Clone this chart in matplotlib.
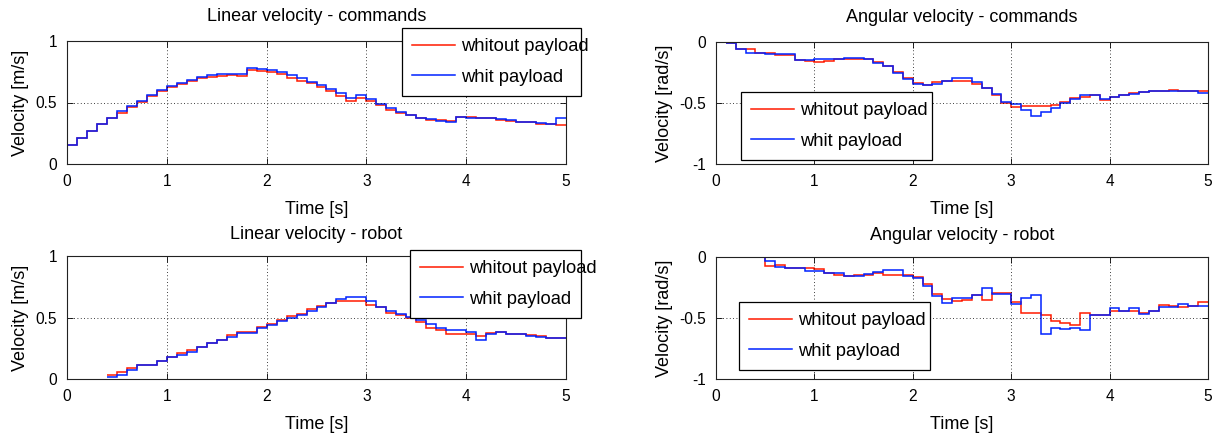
import numpy as np
import matplotlib
matplotlib.use("Agg")
import matplotlib.pyplot as plt

plt.rcParams['font.family'] = ['Liberation Sans', 'DejaVu Sans']

# ---- data -------------------------------------------------------------
DT = 0.1
series_labels = ["whitout payload", "whit payload"]

# Linear velocity - commands (starts at t = 0.0)
lin_cmd_t0 = 0.0
lin_cmd_no = [0.155, 0.212, 0.272, 0.323, 0.372, 0.418, 0.463, 0.505, 0.554, 0.592,
              0.622, 0.650, 0.678, 0.698, 0.707, 0.717, 0.723, 0.712, 0.764, 0.756,
              0.745, 0.728, 0.700, 0.675, 0.655, 0.625, 0.596, 0.555, 0.510, 0.540,
              0.515, 0.478, 0.440, 0.418, 0.397, 0.375, 0.360, 0.360, 0.352, 0.386,
              0.380, 0.375, 0.370, 0.360, 0.353, 0.343, 0.342, 0.328, 0.324, 0.320]
lin_cmd_pl = [0.155, 0.212, 0.272, 0.323, 0.375, 0.429, 0.470, 0.514, 0.560, 0.598,
              0.633, 0.660, 0.685, 0.707, 0.723, 0.728, 0.734, 0.734, 0.780, 0.772,
              0.765, 0.750, 0.725, 0.700, 0.670, 0.640, 0.610, 0.575, 0.535, 0.565,
              0.525, 0.490, 0.455, 0.425, 0.400, 0.372, 0.364, 0.350, 0.342, 0.380,
              0.375, 0.372, 0.370, 0.362, 0.355, 0.345, 0.338, 0.330, 0.322, 0.370]

# Angular velocity - commands (starts at t = 0.1)
ang_cmd_t0 = 0.1
ang_cmd_no = [-0.010, -0.056, -0.058, -0.089, -0.094, -0.110, -0.110, -0.150, -0.156, -0.167,
              -0.156, -0.139, -0.139, -0.139, -0.139, -0.164, -0.194, -0.244, -0.294, -0.335,
              -0.356, -0.330, -0.322, -0.317, -0.320, -0.348, -0.376, -0.433, -0.500, -0.530,
              -0.525, -0.525, -0.525, -0.517, -0.489, -0.460, -0.450, -0.433, -0.478, -0.450,
              -0.438, -0.420, -0.410, -0.404, -0.404, -0.393, -0.404, -0.404, -0.404]
ang_cmd_pl = [-0.010, -0.056, -0.089, -0.089, -0.097, -0.100, -0.100, -0.150, -0.144, -0.139,
              -0.139, -0.139, -0.133, -0.133, -0.139, -0.172, -0.200, -0.256, -0.306, -0.344,
              -0.350, -0.345, -0.317, -0.298, -0.298, -0.326, -0.376, -0.427, -0.494, -0.511,
              -0.560, -0.610, -0.576, -0.540, -0.500, -0.466, -0.438, -0.438, -0.466, -0.450,
              -0.438, -0.427, -0.410, -0.404, -0.404, -0.404, -0.404, -0.404, -0.420]

# Linear velocity - robot (starts at t = 0.4)
lin_rob_t0 = 0.4
lin_rob_no = [0.030, 0.056, 0.089, 0.116, 0.116, 0.148, 0.175, 0.210, 0.237, 0.260,
              0.290, 0.320, 0.358, 0.384, 0.384, 0.422, 0.449, 0.476, 0.513, 0.532,
              0.567, 0.594, 0.621, 0.637, 0.637, 0.637, 0.600, 0.583, 0.538, 0.519,
              0.492, 0.460, 0.417, 0.398, 0.368, 0.368, 0.368, 0.352, 0.374, 0.384,
              0.368, 0.363, 0.358, 0.352, 0.336, 0.330]
lin_rob_pl = [0.016, 0.035, 0.075, 0.116, 0.116, 0.148, 0.175, 0.196, 0.223, 0.260,
              0.290, 0.320, 0.344, 0.371, 0.371, 0.411, 0.438, 0.470, 0.497, 0.524,
              0.551, 0.583, 0.621, 0.648, 0.664, 0.664, 0.637, 0.589, 0.551, 0.530,
              0.503, 0.476, 0.449, 0.417, 0.398, 0.398, 0.379, 0.320, 0.363, 0.384,
              0.368, 0.363, 0.352, 0.341, 0.330, 0.330]

# Angular velocity - robot (starts at t = 0.4)
ang_rob_t0 = 0.4
ang_rob_no = [-0.003, -0.073, -0.067, -0.090, -0.090, -0.090, -0.100, -0.130, -0.150, -0.156,
              -0.150, -0.145, -0.134, -0.150, -0.150, -0.150, -0.162, -0.218, -0.307, -0.341,
              -0.358, -0.353, -0.311, -0.350, -0.294, -0.294, -0.367, -0.461, -0.456, -0.472,
              -0.522, -0.544, -0.556, -0.456, -0.472, -0.472, -0.444, -0.439, -0.444, -0.456,
              -0.439, -0.394, -0.400, -0.406, -0.400, -0.367]
ang_rob_pl = [-0.003, -0.034, -0.084, -0.090, -0.090, -0.117, -0.117, -0.128, -0.128, -0.156,
              -0.156, -0.140, -0.123, -0.106, -0.106, -0.156, -0.173, -0.240, -0.318, -0.380,
              -0.335, -0.339, -0.311, -0.256, -0.306, -0.306, -0.383, -0.333, -0.311, -0.628,
              -0.583, -0.594, -0.578, -0.600, -0.472, -0.472, -0.422, -0.439, -0.422, -0.467,
              -0.439, -0.406, -0.406, -0.389, -0.400, -0.400]

# ---- figure -----------------------------------------------------------
W, H = 1219, 437
fig = plt.figure(figsize=(W / 100, H / 100), dpi=100)


def rect(x0, y0, x1, y1):
    return [x0 / W, 1 - y1 / H, (x1 - x0) / W, (y1 - y0) / H]


panels = [
    dict(rect=rect(67, 41, 566, 164), title="Linear velocity - commands", ylabel="Velocity [m/s]",
         t0=lin_cmd_t0, no=lin_cmd_no, pl=lin_cmd_pl, ylim=(0, 1), yticks=[0, 0.5, 1],
         leg=(402, 28, 581, 93), tpad=14.5),
    dict(rect=rect(716, 42, 1208, 164), title="Angular velocity - commands", ylabel="Velocity [rad/s]",
         t0=ang_cmd_t0, no=ang_cmd_no, pl=ang_cmd_pl, ylim=(-1, 0), yticks=[-1, -0.5, 0],
         leg=(741, 92, 932, 157), tpad=14.5),
    dict(rect=rect(67, 256, 566, 379), title="Linear velocity - robot", ylabel="Velocity [m/s]",
         t0=lin_rob_t0, no=lin_rob_no, pl=lin_rob_pl, ylim=(0, 1), yticks=[0, 0.5, 1],
         leg=(410, 250, 581, 306), tpad=12.5),
    dict(rect=rect(716, 257, 1208, 379), title="Angular velocity - robot", ylabel="Velocity [rad/s]",
         t0=ang_rob_t0, no=ang_rob_no, pl=ang_rob_pl, ylim=(-1, 0), yticks=[-1, -0.5, 0],
         leg=(739, 302, 930, 368), tpad=12.5),
]

FS_TICK = 11.2
FS_TEXT = 13
FS_LEG = 13.2
for p in panels:
    ax = fig.add_axes(p["rect"])
    n = len(p["no"])
    edges = np.round(p["t0"] + DT * np.arange(n + 1), 3)
    ax.stairs(p["no"], edges, color="#ff1a00", lw=1.1, baseline=None, label=series_labels[0])
    ax.stairs(p["pl"], edges, color="#0022ff", lw=1.1, baseline=None, label=series_labels[1])
    ax.set_xlim(0, 5)
    ax.set_ylim(*p["ylim"])
    ax.set_xticks([0, 1, 2, 3, 4, 5])
    ax.set_yticks(p["yticks"])
    ax.set_yticklabels([f"{v:g}" for v in p["yticks"]])
    ax.tick_params(direction="in", top=True, right=True, length=4, width=0.6,
                   labelsize=FS_TICK, pad=7, colors="black")
    ax.grid(True, linestyle=(0, (1, 3)), color="black", lw=0.6)
    for s in ax.spines.values():
        s.set_linewidth(0.8)
        s.set_color("#222222")
    ax.set_title(p["title"], fontsize=FS_TEXT, pad=p["tpad"])
    ax.set_xlabel("Time [s]", fontsize=FS_TEXT, labelpad=9)
    ax.set_ylabel(p["ylabel"], fontsize=FS_TEXT, labelpad=5)
    lx0, ly0, lx1, ly1 = p["leg"]
    leg = ax.legend(loc="upper left",
                    bbox_to_anchor=(lx0 / W, 1 - ly1 / H, (lx1 - lx0) / W, (ly1 - ly0) / H),
                    bbox_transform=fig.transFigure, mode="expand", fontsize=FS_LEG,
                    frameon=True, fancybox=False, framealpha=1, edgecolor="black",
                    handlelength=2.35, handletextpad=0.33, labelspacing=0.75,
                    borderpad=0.55, borderaxespad=0)
    leg.get_frame().set_linewidth(0.9)
    leg.set_clip_on(False)

fig.savefig("out.png", dpi=100)
